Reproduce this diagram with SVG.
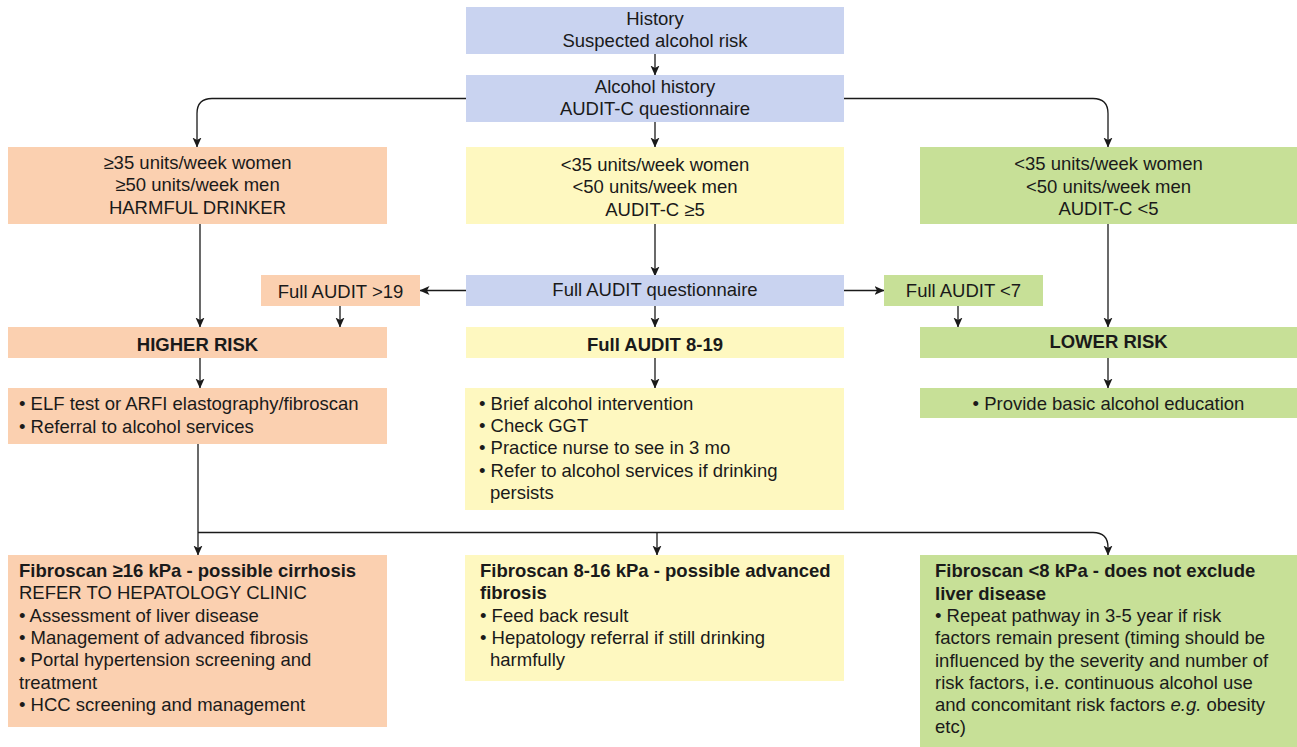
<svg xmlns="http://www.w3.org/2000/svg" width="1297" height="747" viewBox="0 0 1297 747">
<defs>
<marker id="arr" markerUnits="userSpaceOnUse" markerWidth="10" markerHeight="10" refX="9.5" refY="4.5" orient="auto">
<path d="M0,0 L10,4.5 L0,9 L2.5,4.5 z" fill="#1a1a1a"/>
</marker>
<style>
text{font-family:"Liberation Sans",Arial,sans-serif;font-size:18.5px;fill:#1a1a1a}
.c{text-anchor:middle}
.b{font-weight:bold}
.blue{fill:#c9d3f0}
.org{fill:#fbd0b0}
.yel{fill:#fef8c0}
.grn{fill:#c7e097}
.ln{fill:none;stroke:#1a1a1a;stroke-width:1.3;marker-end:url(#arr)}
</style>
</defs>
<rect width="1297" height="747" fill="#ffffff"/>

<g id="connectors">
<path class="ln" d="M655,54 V75"/>
<path class="ln" d="M655,122 V147"/>
<path class="ln" d="M466,98.5 H212 Q197,98.5 197,113.5 V147"/>
<path class="ln" d="M844,98.5 H1093 Q1108,98.5 1108,113.5 V147"/>
<path class="ln" d="M655,224 V276"/>
<path class="ln" d="M200,224 V327"/>
<path class="ln" d="M1108,224 V327"/>
<path class="ln" d="M466,290.5 H420"/>
<path class="ln" d="M844,290.5 H884"/>
<path class="ln" d="M340,306 V327"/>
<path class="ln" d="M958,306 V327"/>
<path class="ln" d="M655,306 V327"/>
<path class="ln" d="M200,358 V388"/>
<path class="ln" d="M655,358 V388"/>
<path class="ln" d="M1108,358 V388"/>
<path class="ln" d="M198,444 V555"/>
<path class="ln" d="M198,532.5 H1093 Q1108,532.5 1108,547.5 V555"/>
<path class="ln" d="M657,532.5 V555"/>
</g>

<g id="history">
<rect class="blue" x="466" y="7" width="378" height="47"/>
<text class="c" x="655" y="25">History</text>
<text class="c" x="655" y="47">Suspected alcohol risk</text>
</g>

<g id="alcohol-history">
<rect class="blue" x="466" y="75" width="378" height="47"/>
<text class="c" x="655" y="92.5">Alcohol history</text>
<text class="c" x="655" y="114.5">AUDIT-C questionnaire</text>
</g>

<g id="harmful">
<rect class="org" x="8" y="147" width="379" height="77"/>
<text class="c" x="197.5" y="168.5">≥35 units/week women</text>
<text class="c" x="197.5" y="191">≥50 units/week men</text>
<text class="c" x="197.5" y="213.5">HARMFUL DRINKER</text>
</g>

<g id="audit-c-high">
<rect class="yel" x="466" y="147" width="378" height="77"/>
<text class="c" x="655" y="170.5">&lt;35 units/week women</text>
<text class="c" x="655" y="193">&lt;50 units/week men</text>
<text class="c" x="655" y="215.5">AUDIT-C ≥5</text>
</g>

<g id="audit-c-low">
<rect class="grn" x="920" y="147" width="377" height="77"/>
<text class="c" x="1108.5" y="170">&lt;35 units/week women</text>
<text class="c" x="1108.5" y="192.5">&lt;50 units/week men</text>
<text class="c" x="1108.5" y="215">AUDIT-C &lt;5</text>
</g>

<g id="full-audit">
<rect class="blue" x="466" y="275" width="378" height="31"/>
<text class="c" x="655" y="295.5">Full AUDIT questionnaire</text>
</g>

<g id="full-audit-high">
<rect class="org" x="261" y="275" width="159" height="31"/>
<text class="c" x="340.5" y="297.5">Full AUDIT &gt;19</text>
</g>

<g id="full-audit-low">
<rect class="grn" x="884" y="275" width="159" height="31"/>
<text class="c" x="963.5" y="296.5">Full AUDIT &lt;7</text>
</g>

<g id="higher-risk">
<rect class="org" x="8" y="327" width="379" height="31"/>
<text class="c b" x="197.5" y="351">HIGHER RISK</text>
</g>

<g id="full-audit-mid">
<rect class="yel" x="466" y="327" width="378" height="31"/>
<text class="c b" x="655" y="351">Full AUDIT 8-19</text>
</g>

<g id="lower-risk">
<rect class="grn" x="920" y="327" width="377" height="31"/>
<text class="c b" x="1108.5" y="347.5">LOWER RISK</text>
</g>

<g id="higher-actions">
<rect class="org" x="8" y="388" width="379" height="56"/>
<text x="19" y="410">• ELF test or ARFI elastography/fibroscan</text>
<text x="19" y="432.5">• Referral to alcohol services</text>
</g>

<g id="mid-actions">
<rect class="yel" x="465" y="388" width="379" height="122"/>
<text x="479" y="409.5">• Brief alcohol intervention</text>
<text x="479" y="431.8">• Check GGT</text>
<text x="479" y="454">• Practice nurse to see in 3 mo</text>
<text x="479" y="476.5">• Refer to alcohol services if drinking</text>
<text x="490" y="498.8">persists</text>
</g>

<g id="lower-actions">
<rect class="grn" x="920" y="388" width="377" height="30"/>
<text class="c" x="1108.5" y="410">• Provide basic alcohol education</text>
</g>

<g id="fibro-high">
<rect class="org" x="8" y="555" width="379" height="172"/>
<text class="b" x="19" y="577">Fibroscan ≥16 kPa - possible cirrhosis</text>
<text x="19" y="599.3">REFER TO HEPATOLOGY CLINIC</text>
<text x="19" y="621.6">• Assessment of liver disease</text>
<text x="19" y="644">• Management of advanced fibrosis</text>
<text x="19" y="666.3">• Portal hypertension screening and</text>
<text x="19" y="688.6">treatment</text>
<text x="19" y="711">• HCC screening and management</text>
</g>

<g id="fibro-mid">
<rect class="yel" x="465" y="555" width="379" height="126"/>
<text class="b" x="480" y="577">Fibroscan 8-16 kPa - possible advanced</text>
<text class="b" x="480" y="599.3">fibrosis</text>
<text x="480" y="621.6">• Feed back result</text>
<text x="480" y="644">• Hepatology referral if still drinking</text>
<text x="490" y="666.3">harmfully</text>
</g>

<g id="fibro-low">
<rect class="grn" x="920" y="555" width="377" height="192"/>
<text class="b" x="935" y="577.3">Fibroscan &lt;8 kPa - does not exclude</text>
<text class="b" x="935" y="599.6">liver disease</text>
<text x="935" y="621.9">• Repeat pathway in 3-5 year if risk</text>
<text x="935" y="644.2">factors remain present (timing should be</text>
<text x="935" y="666.5">influenced by the severity and number of</text>
<text x="935" y="688.8">risk factors, i.e. continuous alcohol use</text>
<text x="935" y="711.1">and concomitant risk factors <tspan font-style="italic">e.g.</tspan> obesity</text>
<text x="935" y="733.4">etc)</text>
</g>
</svg>
